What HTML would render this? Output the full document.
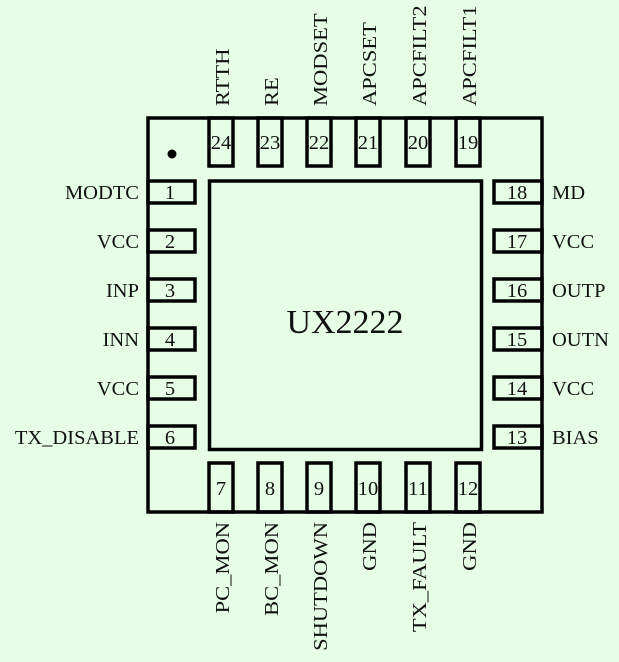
<!DOCTYPE html>
<html><head><meta charset="utf-8"><style>
html,body{margin:0;padding:0;background:#e6fde6;}
svg{display:block}
text{font-family:"Liberation Serif",serif;font-size:20.5px;fill:#111;}
</style></head><body>
<svg width="619" height="662" viewBox="0 0 619 662" xmlns="http://www.w3.org/2000/svg">
<rect x="0" y="0" width="619" height="662" fill="#e6fde6"/>
<g fill="none" stroke="#000" stroke-width="3.5">
<rect x="148" y="118" width="394" height="394"/>
<rect x="209.5" y="181" width="272" height="268.5"/>
<rect x="209" y="118" width="24" height="48"/>
<rect x="258" y="118" width="24" height="48"/>
<rect x="307" y="118" width="24" height="48"/>
<rect x="356" y="118" width="24" height="48"/>
<rect x="406" y="118" width="24" height="48"/>
<rect x="456" y="118" width="24" height="48"/>
<rect x="209" y="463" width="24" height="49"/>
<rect x="258" y="463" width="24" height="49"/>
<rect x="307" y="463" width="24" height="49"/>
<rect x="356" y="463" width="24" height="49"/>
<rect x="406" y="463" width="24" height="49"/>
<rect x="456" y="463" width="24" height="49"/>
<rect x="148" y="181" width="47" height="22"/>
<rect x="148" y="230" width="47" height="22"/>
<rect x="148" y="279" width="47" height="22"/>
<rect x="148" y="328" width="47" height="22"/>
<rect x="148" y="377" width="47" height="22"/>
<rect x="148" y="426" width="47" height="22"/>
<rect x="494" y="181" width="48" height="22"/>
<rect x="494" y="230" width="48" height="22"/>
<rect x="494" y="279" width="48" height="22"/>
<rect x="494" y="328" width="48" height="22"/>
<rect x="494" y="377" width="48" height="22"/>
<rect x="494" y="426" width="48" height="22"/>
</g>
<circle cx="172" cy="154" r="4.5" fill="#000"/>
<text x="345" y="333" text-anchor="middle" style="font-size:34px">UX2222</text>
<g text-anchor="middle">
<text x="221" y="149">24</text><text x="270" y="149">23</text><text x="319" y="149">22</text>
<text x="368" y="149">21</text><text x="418" y="149">20</text><text x="468" y="149">19</text>
<text x="221" y="495">7</text><text x="270" y="495">8</text><text x="319" y="495">9</text>
<text x="368" y="495">10</text><text x="418" y="495">11</text><text x="468" y="495">12</text>
<text x="170" y="199">1</text><text x="170" y="248">2</text><text x="170" y="297">3</text>
<text x="170" y="346">4</text><text x="170" y="395">5</text><text x="170" y="444">6</text>
<text x="517" y="199">18</text><text x="517" y="248">17</text><text x="517" y="297">16</text>
<text x="517" y="346">15</text><text x="517" y="395">14</text><text x="517" y="444">13</text>
</g>
<g text-anchor="end">
<text x="139" y="199">MODTC</text><text x="139" y="248">VCC</text><text x="139" y="297">INP</text>
<text x="139" y="346">INN</text><text x="139" y="395">VCC</text><text x="139" y="444">TX_DISABLE</text>
</g>
<g>
<text x="552" y="199">MD</text><text x="552" y="248">VCC</text><text x="552" y="297">OUTP</text>
<text x="552" y="346">OUTN</text><text x="552" y="395">VCC</text><text x="552" y="444">BIAS</text>
</g>
<g>
<text transform="translate(229,106) rotate(-90) scale(1.1,1)">RTTH</text>
<text transform="translate(278,106) rotate(-90) scale(1.1,1)">RE</text>
<text transform="translate(327,106) rotate(-90) scale(1.1,1)">MODSET</text>
<text transform="translate(376,106) rotate(-90) scale(1.1,1)">APCSET</text>
<text transform="translate(426,106) rotate(-90) scale(1.1,1)">APCFILT2</text>
<text transform="translate(476,106) rotate(-90) scale(1.1,1)">APCFILT1</text>
</g>
<g text-anchor="end">
<text transform="translate(229,522) rotate(-90) scale(1.1,1)">PC_MON</text>
<text transform="translate(278,522) rotate(-90) scale(1.1,1)">BC_MON</text>
<text transform="translate(327,522) rotate(-90) scale(1.1,1)">SHUTDOWN</text>
<text transform="translate(376,522) rotate(-90) scale(1.1,1)">GND</text>
<text transform="translate(426,522) rotate(-90) scale(1.1,1)">TX_FAULT</text>
<text transform="translate(476,522) rotate(-90) scale(1.1,1)">GND</text>
</g>
</svg>
</body></html>
